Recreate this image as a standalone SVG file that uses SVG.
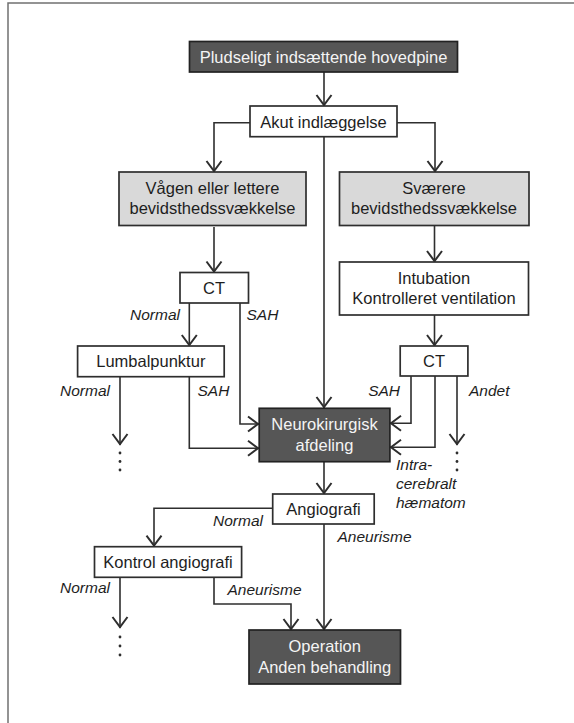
<svg xmlns="http://www.w3.org/2000/svg" width="574" height="723" viewBox="0 0 574 723">
<style>
.box{stroke:#2e2e2e;stroke-width:1.7}
.white{fill:#fff}
.gray{fill:#d9d9d9}
.dark{fill:#565656;stroke:#222}
.t{font-family:"Liberation Sans",Arial,sans-serif;font-size:16.5px;fill:#1e1e1e;text-anchor:middle}
.tw{fill:#f4f4f4}
.lab{font-family:"Liberation Sans",Arial,sans-serif;font-size:15.5px;font-style:italic;fill:#1e1e1e}
.end{text-anchor:end}
.c{fill:none;stroke:#2e2e2e;stroke-width:1.6}
.dot{fill:#2e2e2e}
</style>
<defs>
<marker id="arr" markerUnits="userSpaceOnUse" markerWidth="24" markerHeight="24" viewBox="-12 -12 24 24" refX="1" refY="0" orient="auto">
<path d="M-10,-7.5 L0,0 L-10,7.5" fill="none" stroke="#2e2e2e" stroke-width="2"/>
</marker>
</defs>
<rect x="0" y="0" width="574" height="723" fill="#fff"/>
<path d="M8,723 V3 H574" fill="none" stroke="#707070" stroke-width="1.5"/>

<g id="connectors">
<path class="c" d="M324,72 V106" marker-end="url(#arr)"/>
<path class="c" d="M250,122.7 H214 V172" marker-end="url(#arr)"/>
<path class="c" d="M397,122.7 H435 V172" marker-end="url(#arr)"/>
<path class="c" d="M324,137 V408" marker-end="url(#arr)"/>
<path class="c" d="M214,227 V272.5" marker-end="url(#arr)"/>
<path class="c" d="M189.3,303 V346" marker-end="url(#arr)"/>
<path class="c" d="M240,303 V424 H259" marker-end="url(#arr)"/>
<path class="c" d="M120,377 V445" marker-end="url(#arr)"/>
<path class="c" d="M189.3,377 V448.3 H259" marker-end="url(#arr)"/>
<path class="c" d="M434.5,225 V262" marker-end="url(#arr)"/>
<path class="c" d="M434.5,315 V346" marker-end="url(#arr)"/>
<path class="c" d="M411,376 V423.3 H390" marker-end="url(#arr)"/>
<path class="c" d="M435,376 V447.3 H390" marker-end="url(#arr)"/>
<path class="c" d="M457,376 V445" marker-end="url(#arr)"/>
<path class="c" d="M324,462 V494" marker-end="url(#arr)"/>
<path class="c" d="M272.7,508.3 H154 V546.7" marker-end="url(#arr)"/>
<path class="c" d="M324,524 V630" marker-end="url(#arr)"/>
<path class="c" d="M120,577.3 V628" marker-end="url(#arr)"/>
<path class="c" d="M214,577.3 V604 H291 V630" marker-end="url(#arr)"/>
<circle class="dot" cx="120" cy="453" r="1.4"/>
<circle class="dot" cx="120" cy="461.5" r="1.4"/>
<circle class="dot" cx="120" cy="470" r="1.4"/>
<circle class="dot" cx="457" cy="453" r="1.4"/>
<circle class="dot" cx="457" cy="461.5" r="1.4"/>
<circle class="dot" cx="457" cy="470" r="1.4"/>
<circle class="dot" cx="120" cy="637" r="1.4"/>
<circle class="dot" cx="120" cy="646" r="1.4"/>
<circle class="dot" cx="120" cy="655" r="1.4"/>
<text class="lab end" x="180" y="320">Normal</text>
<text class="lab" x="246.5" y="320">SAH</text>
<text class="lab end" x="110" y="396">Normal</text>
<text class="lab" x="197.5" y="396">SAH</text>
<text class="lab end" x="400" y="396">SAH</text>
<text class="lab" x="469" y="396">Andet</text>
<text class="lab" x="396" y="470">Intra-</text>
<text class="lab" x="396" y="489">cerebralt</text>
<text class="lab" x="396" y="508">hæmatom</text>
<text class="lab end" x="263" y="526">Normal</text>
<text class="lab" x="337.5" y="541.5">Aneurisme</text>
<text class="lab end" x="110" y="593">Normal</text>
<text class="lab" x="227.5" y="595">Aneurisme</text>
</g>

<g id="n-top">
<rect class="box dark" x="189.5" y="41.5" width="268" height="30.5"/>
<text class="t tw" x="323.5" y="62.5">Pludseligt indsættende hovedpine</text>
</g>
<g id="n-akut">
<rect class="box white" x="250" y="106" width="147" height="30.7"/>
<text class="t" x="323.5" y="127.5">Akut indlæggelse</text>
</g>
<g id="n-vaagen">
<rect class="box gray" x="119" y="172" width="187" height="53.5"/>
<text class="t" x="212.5" y="193.5">Vågen eller lettere</text>
<text class="t" x="212.5" y="214">bevidsthedssvækkelse</text>
</g>
<g id="n-svaerere">
<rect class="box gray" x="339.5" y="172" width="189.5" height="53.5"/>
<text class="t" x="434" y="193.5">Sværere</text>
<text class="t" x="434" y="214">bevidsthedssvækkelse</text>
</g>
<g id="n-ct1">
<rect class="box white" x="180" y="272.5" width="68.5" height="30.5"/>
<text class="t" x="214" y="293.8">CT</text>
</g>
<g id="n-lumbal">
<rect class="box white" x="77.6" y="346" width="146.6" height="30.7"/>
<text class="t" x="150.8" y="367">Lumbalpunktur</text>
</g>
<g id="n-intubation">
<rect class="box white" x="339.5" y="262" width="189" height="53"/>
<text class="t" x="434" y="283.5">Intubation</text>
<text class="t" x="434" y="304">Kontrolleret ventilation</text>
</g>
<g id="n-ct2">
<rect class="box white" x="400.2" y="346" width="67.7" height="30"/>
<text class="t" x="434" y="367">CT</text>
</g>
<g id="n-neuro">
<rect class="box dark" x="259.2" y="408.3" width="130.7" height="53.4"/>
<text class="t tw" x="324.5" y="429.5">Neurokirurgisk</text>
<text class="t tw" x="324.5" y="450.5">afdeling</text>
</g>
<g id="n-angio">
<rect class="box white" x="272.7" y="494" width="101.5" height="30"/>
<text class="t" x="323.5" y="515">Angiografi</text>
</g>
<g id="n-kontrol">
<rect class="box white" x="94.5" y="546.7" width="147.1" height="30.6"/>
<text class="t" x="168" y="568">Kontrol angiografi</text>
</g>
<g id="n-operation">
<rect class="box dark" x="249" y="630" width="151.5" height="54"/>
<text class="t tw" x="324.7" y="651.5">Operation</text>
<text class="t tw" x="324.7" y="672.5">Anden behandling</text>
</g>
</svg>
